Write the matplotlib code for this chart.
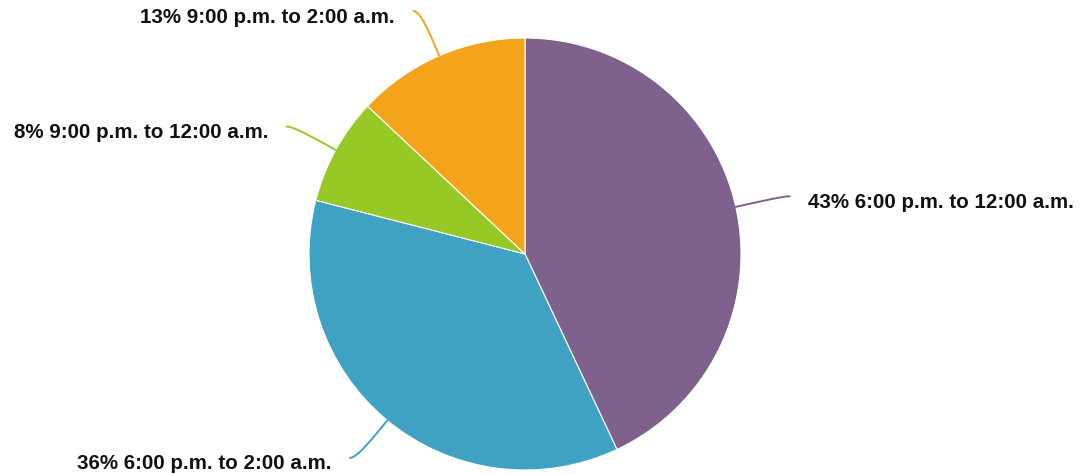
import numpy as np
import matplotlib
matplotlib.use("Agg")
import matplotlib.pyplot as plt
from matplotlib.path import Path
from matplotlib.patches import PathPatch

# Data
labels = ["6:00 p.m. to 12:00 a.m.", "6:00 p.m. to 2:00 a.m.",
          "9:00 p.m. to 12:00 a.m.", "9:00 p.m. to 2:00 a.m."]
values = [43, 36, 8, 13]
colors = ["#7E618D", "#40A2C3", "#97C925", "#F4A41B"]

W, H, DPI = 1085, 474, 100
fig = plt.figure(figsize=(W / DPI, H / DPI), dpi=DPI)
ax = fig.add_axes([0, 0, 1, 1])

# pie geometry in pixel terms -> unit radius
cx, cy, R = 525, 254, 216

wedges, _ = ax.pie(values, colors=colors, startangle=90, counterclock=False,
                   radius=1.0, center=(0, 0),
                   wedgeprops=dict(edgecolor="white", linewidth=0.8))
ax.set_xlim(-cx / R, (W - cx) / R)
ax.set_ylim(-(H - cy) / R, cy / R)
ax.set_aspect("equal")
ax.axis("off")

total = sum(values)
start = 90.0
for v, lab, col in zip(values, labels, colors):
    sweep = 360.0 * v / total
    mid = np.deg2rad(start - sweep / 2)
    start -= sweep
    d = np.array([np.cos(mid), np.sin(mid)])
    sign = 1 if d[0] >= 0 else -1
    p0 = d * 1.0
    p1 = d * 1.10
    end = d * 1.225 + np.array([sign * 0.03, 0])
    p2 = end - np.array([sign * 0.035, 0])
    path = Path([p0, p1, p2, end],
                [Path.MOVETO, Path.CURVE4, Path.CURVE4, Path.CURVE4])
    ax.add_patch(PathPatch(path, facecolor="none", edgecolor=col, lw=1.4,
                           capstyle="round"))
    tx = end[0] + sign * 0.085
    ty = end[1] - 0.028
    ax.text(tx, ty, f"{v}% {lab}", ha="left" if sign > 0 else "right",
            va="center", fontsize=14.8, fontweight="bold",
            family="Liberation Sans", color="#111111")

fig.savefig("out.png", dpi=DPI)
